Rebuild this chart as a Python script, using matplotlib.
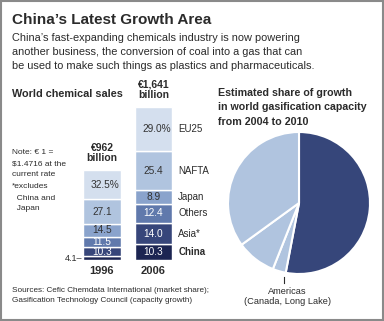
import numpy as np
import matplotlib
matplotlib.use("Agg")
import matplotlib.pyplot as plt
from matplotlib.patches import Rectangle

plt.rcParams['font.family'] = ['Liberation Sans', 'DejaVu Sans']

# World chemical sales, share by region (%), bottom to top
regions = ['China', 'Asia*', 'Others', 'Japan', 'NAFTA', 'EU25']
years = ['1996', '2006']
totals = [962, 1641]  # billion euros
share_1996 = [4.1, 10.3, 11.5, 14.5, 27.1, 32.5]
share_2006 = [10.3, 14.0, 12.4, 8.9, 25.4, 29.0]
total_labels = ['\u20ac962\nbillion', '\u20ac1,641\nbillion']

# Gasification capacity growth 2004-2010 (%), clockwise from top
pie_regions = ['Asia', 'Americas', 'Europe', 'Africa/M.E.']
pie_share = [53, 3, 9, 35]

region_colors = ['#1c2552', '#37467a', '#6079ac', '#8aa3cc', '#b0c4df', '#d4dfee']
light_text = [True, True, True, False, False, False]
pie_colors = ['#36467a', '#b0c4df', '#b0c4df', '#b0c4df']

W, H = 384, 321
fig = plt.figure(figsize=(W / 100, H / 100), dpi=100)
fig.patch.set_facecolor('white')

def px_axes(left, top, width, height):
    return fig.add_axes([left / W, 1 - (top + height) / H, width / W, height / H])

# overlay for text, in pixel units (origin top-left)
bg = px_axes(0, 0, W, H)
bg.set_xlim(0, W)
bg.set_ylim(H, 0)
bg.axis('off')
bg.add_patch(Rectangle((0.5, 0.5), W - 1.5, H - 1.5, fill=False, edgecolor='#8a8a8a', lw=1.5))

dark = '#2b2b2b'
bg.text(12, 20, "China\u2019s Latest Growth Area", fontsize=11, fontweight='bold',
        color=dark, va='center', ha='left')
subtitle = ["China\u2019s fast-expanding chemicals industry is now powering",
            "another business, the conversion of coal into a gas that can",
            "be used to make such things as plastics and pharmaceuticals."]
for i, line in enumerate(subtitle):
    bg.text(12, 38 + 14 * i, line, fontsize=7.9, color=dark, va='center', ha='left')

bg.text(12, 94, "World chemical sales", fontsize=7.8, fontweight='bold', color=dark, va='center')
note = ["Note: \u20ac 1 =", "$1.4716 at the", "current rate"]
for i, line in enumerate(note):
    bg.text(12, 153 + 10.5 * i, line, fontsize=6, color=dark, va='center')
excl = ["*excludes", "  China and", "  Japan"]
for i, line in enumerate(excl):
    bg.text(12, 187 + 11 * i, line, fontsize=6, color=dark, va='center')

bg.text(12, 291, "Sources: Cefic Chemdata International (market share);",
        fontsize=5.9, color=dark, va='center')
bg.text(12, 301, "Gasification Technology Council (capacity growth)",
        fontsize=5.9, color=dark, va='center')

# stacked bars, heights scaled to the total
bar_px_per_bn = 153 / 1641
ax = px_axes(70, 60, 120, 200)
ax.set_ylim(0, 200 / bar_px_per_bn)
ax.set_xlim((70 - 102) / 51.5, (190 - 102) / 51.5)
ax.axis('off')
xpos = np.arange(len(years))
for j, shares in enumerate([share_1996, share_2006]):
    vals = np.array(shares) / 100 * totals[j]
    bottoms = np.concatenate([[0], np.cumsum(vals)[:-1]])
    ax.bar(xpos[j], vals, bottom=bottoms, width=0.72, color=region_colors,
           edgecolor='white', linewidth=1)
    for k, (v, b) in enumerate(zip(vals, bottoms)):
        if j == 0 and k == 0:
            continue
        txt = f"{shares[k]:.1f}"
        col = 'white' if light_text[k] else '#333333'
        if k == len(vals) - 1:
            ax.text(xpos[j] + 0.34, b + v / 2, txt + '%', ha='right', va='center',
                    fontsize=7.3, color=col)
        else:
            ax.text(xpos[j], b + v / 2, txt, ha='center', va='center', fontsize=7.3, color=col)
    ax.text(xpos[j], totals[j] + 7 / bar_px_per_bn, total_labels[j], ha='center',
            va='bottom', fontsize=7.5, fontweight='bold', color=dark, linespacing=1.05)
    ax.text(xpos[j], -11 / bar_px_per_bn, years[j], ha='center', va='center',
            fontsize=8, fontweight='bold', color=dark)

# smallest 1996 slice labelled outside
ax.text(xpos[0] - 0.38, share_1996[0] / 100 * totals[0] / 2, f"{share_1996[0]:.1f}\u2013",
        ha='right', va='center', fontsize=6.5, color=dark)

# region names beside the 2006 bar
vals06 = np.array(share_2006) / 100 * totals[1]
mids06 = np.cumsum(vals06) - vals06 / 2
for k, name in enumerate(regions):
    ax.text(xpos[1] + 0.48, mids06[k], name, ha='left', va='center', fontsize=7,
            color=dark, fontweight='bold' if name == 'China' else 'normal')

# pie
pax = px_axes(228, 132, 142, 142)
wedges, _ = pax.pie(pie_share, colors=pie_colors, startangle=90, counterclock=False,
                    wedgeprops=dict(edgecolor='white', linewidth=1.5))
pax.set_xlim(-1, 1)
pax.set_ylim(-1, 1)
pax.set_aspect('equal')

for i, line in enumerate(["Estimated share of growth", "in world gasification capacity",
                          "from 2004 to 2010"]):
    bg.text(218, 93 + 14.5 * i, line, fontsize=7.7, fontweight='bold', color=dark, va='center')

bg.text(331, 202, pie_regions[0], ha='center', va='center', fontsize=7.2, color='white')
bg.text(331, 212, f"{pie_share[0]}%", ha='center', va='center', fontsize=7.2,
        fontweight='bold', color='white')
bg.text(267, 184, "Africa/M.E.", ha='center', va='center', fontsize=7.2, color=dark)
bg.text(267, 194, "(Qatar, Pearl", ha='center', va='center', fontsize=7.2, color=dark)
bg.text(274, 204, "GTL) ", ha='right', va='center', fontsize=7.2, color=dark)
bg.text(274, 204, f"{pie_share[3]}%", ha='left', va='center', fontsize=7.2,
        fontweight='bold', color=dark)
bg.text(267, 245, pie_regions[2], ha='center', va='center', fontsize=7.2, color=dark)
bg.text(267, 255, f"{pie_share[2]}%", ha='center', va='center', fontsize=7.2,
        fontweight='bold', color=dark)
bg.text(283, 262, f"{pie_share[1]}%", ha='center', va='center', fontsize=7.2,
        fontweight='bold', color=dark)
bg.plot([284, 284], [277, 283], color=dark, lw=0.8)
bg.text(287, 292, pie_regions[1], ha='center', va='center', fontsize=6.7, color=dark)
bg.text(287, 302, "(Canada, Long Lake)", ha='center', va='center', fontsize=6.7, color=dark)

fig.savefig('out.png', dpi=100, facecolor='white')
